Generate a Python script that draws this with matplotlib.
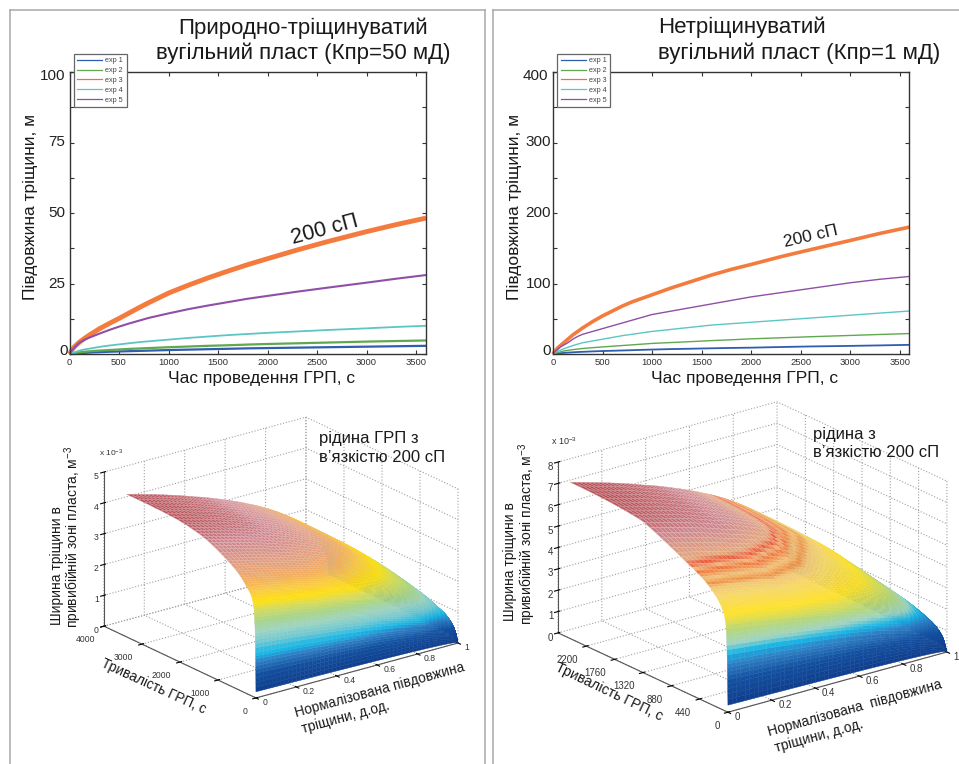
import numpy as np
import matplotlib
matplotlib.use("Agg")
import matplotlib.pyplot as plt
from matplotlib.colors import LinearSegmentedColormap
from matplotlib.lines import Line2D

plt.rcParams["font.family"] = ["Liberation Sans", "DejaVu Sans"]
plt.rcParams["mathtext.default"] = "regular"

# curves
times = [0, 25, 50, 75, 100, 150, 200, 250, 300, 400, 500, 600, 700, 800, 900, 1000, 1200, 1400, 1600, 1800, 2000,
         2300, 2600, 3000, 3300, 3600]

left_exp1 = [0, .1, .15, .2, .3, .4, .5, .6, .65, .8, .9, 1.0, 1.1, 1.2, 1.3, 1.4, 1.55, 1.7, 1.85, 2.0, 2.1,
             2.25, 2.4, 2.6, 2.75, 2.9]
left_exp2 = [0, .15, .3, .45, .6, .8, .95, 1.1, 1.2, 1.4, 1.6, 1.8, 1.95, 2.1, 2.25, 2.4, 2.65, 2.9, 3.1, 3.35, 3.55,
             3.8, 4.05, 4.4, 4.6, 4.8]
left_exp3 = [0, 1.5, 2.6, 3.4, 4.2, 5.5, 6.7, 7.8, 8.9, 10.8, 12.6, 14.5, 16.4, 18.2, 19.9, 21.6, 24.4, 27.0, 29.4,
             31.7, 33.8, 36.9, 39.8, 43.4, 45.9, 48.2]
left_exp4 = [0, .3, .6, .9, 1.2, 1.6, 1.9, 2.2, 2.5, 3.0, 3.4, 3.8, 4.2, 4.5, 4.8, 5.1, 5.7, 6.2, 6.7, 7.1, 7.5,
             8.0, 8.5, 9.1, 9.6, 10.0]
left_exp5 = [0, 1.3, 2.3, 3.2, 4.0, 5.0, 5.8, 6.5, 7.2, 8.5, 9.7, 10.8, 11.8, 12.8, 13.6, 14.4, 15.9, 17.2, 18.4,
             19.6, 20.6, 22.1, 23.5, 25.3, 26.7, 28.0]

right_exp1 = [0, .4, .8, 1.1, 1.5, 2, 2.4, 2.8, 3.1, 3.7, 4.2, 4.6, 5, 5.4, 5.9, 6.3, 7, 7.5, 8.1, 8.6, 9,
              9.9, 10.7, 11.5, 12.2, 13]
right_exp2 = [0, 1, 2, 3, 4, 5.2, 6.2, 7, 7.8, 9, 10, 11, 12, 13, 14, 15, 16.3, 17.6, 19, 20.2, 21.5,
              23, 24.5, 26.3, 27.7, 29]
right_exp3 = [0, 5, 9, 12, 15, 21, 27, 32, 37, 46, 54, 61, 68, 74, 79, 84, 94, 103, 112, 120, 127,
              138, 148, 161, 171, 180]
right_exp4 = [0, 2, 4, 5.5, 7, 9.5, 12, 14, 16, 18.5, 21, 23.5, 26, 28, 30, 32, 35, 38, 41, 43, 45,
              48, 51, 55, 58, 61]
right_exp5 = [0, 4, 7, 10, 12, 16, 21, 25, 28, 32, 36, 40, 44, 48, 52, 56, 61, 66, 71, 76, 81,
              87, 93, 101, 106, 110]

exp_names = ["exp 1", "exp 2", "exp 3", "exp 4", "exp 5"]
exp_colors = ["#2f5db0", "#5fa84f", "#f47b3e", "#5cc6c4", "#8f4fa6"]
legend_colors = ["#2f5db0", "#5fa84f", "#ee6a5c", "#5cc6c4", "#8f4fa6"]

# surfaces: width at the well against time, and the shape along the fracture
norm_length = [0, .02, .04, .06, .08, .1, .12, .14, .16, .18, .2, .22, .24, .26, .28, .3, .32, .34, .36, .38,
               .4, .42, .44, .46, .48, .5, .52, .54, .56, .58, .6, .62, .64, .66, .68, .7, .72, .74, .76, .78,
               .8, .82, .84, .86, .88, .9, .92, .94, .96, .97, .98, .99, .995, 1]
length_shape = [1, .992, .984, .976, .968, .96, .952, .944, .935, .927, .918, .909, .9, .891, .881, .871, .861, .851,
                .842, .832, .822, .811, .8, .789, .777, .766, .754, .742, .729, .716, .702, .689, .675, .66, .645,
                .629, .612, .595, .576, .558, .538, .517, .494, .468, .441, .411, .378, .337, .29, .259, .221, .17,
                .13, .05]

left_duration = [0, 1, 2, 3, 4, 5, 6, 7, 8, 9, 10, 12, 14, 16, 18, 20, 23, 26,
                 30, 34, 38, 43, 48, 54, 60, 68, 76, 85, 95, 105, 118, 130, 145, 160, 180,
                 200, 225, 250, 280, 310, 345, 380, 420, 460, 510, 560, 615, 670, 735, 800, 875, 950, 1035, 1120,
                 1210, 1300,
                 1400, 1500, 1610, 1720, 1835, 1950, 2075, 2200, 2350, 2500, 2650, 2800, 2950, 3100, 3250, 3400]
left_width = [.2, .35, .5, .65, .8, .92, 1.04, 1.15, 1.26, 1.36, 1.46, 1.62, 1.76, 1.88, 2.0, 2.1, 2.2, 2.3,
              2.4, 2.5, 2.6, 2.7, 2.8, 2.9, 2.95, 3.0, 3.05, 3.1, 3.15, 3.19, 3.23, 3.27, 3.31, 3.34, 3.37,
              3.4, 3.44, 3.48, 3.53, 3.58, 3.63, 3.68, 3.73, 3.78, 3.83, 3.88, 3.92, 3.97, 4.02, 4.07, 4.12, 4.17,
              4.23, 4.28, 4.33, 4.38,
              4.42, 4.46, 4.49, 4.52, 4.55, 4.57, 4.59, 4.6, 4.61, 4.62, 4.62, 4.63, 4.63, 4.63, 4.63, 4.63]

right_duration = [0, 1, 2, 3, 4, 5, 6, 7, 8, 9, 10, 12, 14, 16, 18, 20, 23, 26,
                  30, 34, 38, 43, 48, 54, 60, 68, 76, 85, 95, 105, 118, 130, 145, 160, 180,
                  200, 225, 250, 280, 310, 345, 380, 420, 460, 510, 560, 615, 670, 735, 800, 875, 950, 1035, 1120,
                  1210, 1300,
                  1400, 1500, 1610, 1720, 1835, 1950, 2075, 2200, 2325, 2450]
right_width = [.33, .6, .85, 1.1, 1.32, 1.52, 1.72, 1.9, 2.08, 2.24, 2.4, 2.66, 2.9, 3.1, 3.28, 3.45, 3.65, 3.85,
               4.05, 4.14, 4.22, 4.3, 4.38, 4.46, 4.52, 4.6, 4.66, 4.72, 4.78, 4.84, 4.9, 4.96, 5.02, 5.08, 5.16,
               5.22, 5.3, 5.38, 5.46, 5.54, 5.62, 5.7, 5.77, 5.84, 5.92, 6.0, 6.08, 6.16, 6.26, 6.36, 6.47, 6.58,
               6.7, 6.82, 6.94, 7.06,
               7.12, 7.16, 7.2, 7.23, 7.26, 7.28, 7.3, 7.31, 7.32, 7.32]

# how the colour fades towards the tip of the fracture
tone_length = [0, .3, .5, .7, .82, .9, .96, 1]
tone_fade = [1, .97, .91, .79, .68, .52, .38, .12]

left_stops = [(0, "#0f3a8a"), (.15, "#1350a0"), (.24, "#2f7fc4"), (.29, "#18b6e6"), (.37, "#72c9d2"), (.45, "#9fd4c0"),
              (.52, "#a8d48c"), (.6, "#d6dc5a"), (.66, "#ffe012"), (.72, "#f9c83c"), (.77, "#f2a850"), (.85, "#dc8f72"),
              (.93, "#c46c78"), (1, "#a82c34")]
right_stops = [(0, "#0f3a8a"), (.18, "#1350a0"), (.29, "#2f7fc4"), (.355, "#18b6e6"), (.42, "#9fd4c4"), (.5, "#b5d77c"),
               (.61, "#ffe22a"), (.7, "#f6d868"), (.74, "#f1c470"), (.755, "#ee8a3a"), (.775, "#f0c070"),
               (.8, "#ee6a2a"), (.81, "#f0b070"), (.825, "#e84a28"), (.84, "#e2a070"), (.92, "#c4707a"),
               (1, "#a82c34")]


def px(x, y):
    return x / 959, 1 - y / 764


def draw_curves(rect, curves, ymax, pads, top_shift, widths):
    ax = fig.add_axes([rect[0] / 959, 1 - rect[3] / 764, (rect[2] - rect[0]) / 959, (rect[3] - rect[1]) / 764])
    for vals, col, w in zip(curves, exp_colors, widths):
        ax.plot(times, vals, color=col, lw=w, solid_capstyle="butt", clip_on=False)
    ax.set_xlim(0, 3600)
    ax.set_ylim(0, ymax)
    ax.set_xticks(range(0, 3600, 500))
    ax.set_yticks(np.arange(0, ymax + 1, ymax / 8))
    ax.set_yticklabels([])
    ax.tick_params(direction="in", top=True, right=True, length=3, width=0.8, color="#333333", labelsize=6.8,
                   labelcolor="#333333", pad=3)
    for s in ax.spines.values():
        s.set_linewidth(1.0)
        s.set_color("#333333")
    for i, val in enumerate(np.arange(0, ymax + 1, ymax / 4)):
        shift = [3, 0, 0, 0, top_shift][i]
        ax.annotate(f"{val:.0f}", xy=(0, val), xycoords=("axes fraction", "data"), xytext=(-pads[i], shift),
                    textcoords="offset pixels", ha="right", va="center", fontsize=11, color="#222222",
                    annotation_clip=False)
    handles = [Line2D([], [], color=c, lw=0.9) for c in legend_colors]
    leg = ax.legend(handles, exp_names, loc="upper left", bbox_to_anchor=(4 / 356.5, 1 + 18.5 / 282), fontsize=5.2,
                    frameon=True, fancybox=False, framealpha=1, edgecolor="#666666", borderaxespad=0, borderpad=0.5,
                    labelspacing=0.39, handlelength=3.5, handletextpad=0.4, labelcolor="#444444")
    leg.get_frame().set_linewidth(0.9)
    leg.set_zorder(10)
    return ax


def draw_surface(rect, lengths, shape, durations, widths, stops, ylim, yticks, zlim, azim, box, tick_font):
    ax = fig.add_axes([rect[0] / 959, rect[1] / 764, rect[2] / 959, rect[2] / 764], projection="3d")
    ax.patch.set_visible(False)
    ax.set_proj_type("ortho")
    ax.view_init(elev=21, azim=azim)
    ax.set_box_aspect(box)
    # each row of the mesh is the well width at that moment times the shape along the fracture
    X, Y = np.meshgrid(lengths, durations)
    Z = np.outer(widths, shape)
    # colour bands run almost along the fracture and only fade near the tip, as on the reference
    tone = np.outer(widths, np.interp(lengths, tone_length, tone_fade)) / max(widths)
    cmap = LinearSegmentedColormap.from_list("fracture", stops, N=512)
    colors = cmap(tone)
    # the upper part of the mesh lets the white paper through, the lower part is solid
    paper = np.clip((tone - .68) / .25, 0, 1)[..., None] * .42
    colors[..., :3] = colors[..., :3] * (1 - paper * .35) + paper * .35
    surf = ax.plot_surface(X, Y, Z, facecolors=colors, rstride=1, cstride=1, shade=False, linewidth=0.3,
                           antialiased=True)
    edges = colors[:-1, :-1].copy()
    edges[..., :3] = edges[..., :3] * (1 - paper[:-1, :-1]) + paper[:-1, :-1]
    surf.set_edgecolors(edges.reshape(-1, 4))
    ax.set_xlim(0, 1)
    ax.set_ylim(0, ylim)
    ax.set_zlim(0, zlim)
    ax.set_xticks([0, .2, .4, .6, .8, 1])
    ax.set_xticklabels(["0", "0.2", "0.4", "0.6", "0.8", "1"], ha="left", va="bottom")
    ax.set_yticks(yticks)
    ax.set_yticklabels([str(v) for v in yticks], ha="right")
    ax.set_zticks(range(0, zlim + 1))
    ax.tick_params(labelsize=tick_font, labelcolor="#333333", pad=-2)
    ax.tick_params(axis="z", pad=-5)
    ax.zaxis.set_ticks_position("upper")
    for axis in (ax.xaxis, ax.yaxis, ax.zaxis):
        axis.set_pane_color((1, 1, 1, 0))
        axis.pane.set_edgecolor("#999999")
        axis.pane.set_linestyle(":")
        axis.pane.set_linewidth(0.8)
        axis.line.set_color("#555555")
        axis.line.set_linewidth(0.8)
        axis._axinfo["grid"].update(color="#a0a0a0", linestyle=":", linewidth=0.8)
        axis._axinfo["tick"].update(inward_length=0.15, outward_length=0.05)
    return ax


fig = plt.figure(figsize=(9.59, 7.64), dpi=100)

# page frames
for xs, ys in [((10, 10), (764, 10)), ((10, 485), (10, 10)), ((485, 485), (10, 764)),
               ((493, 493), (764, 10)), ((493, 959), (10, 10))]:
    fig.add_artist(Line2D([x / 959 for x in xs], [1 - y / 764 for y in ys], color="#a8a8a8", lw=1.1))

left_curves = [left_exp1, left_exp2, left_exp3, left_exp4, left_exp5]
right_curves = [right_exp1, right_exp2, right_exp3, right_exp4, right_exp5]
draw_curves((69.5, 72, 426, 354), left_curves, 100, [2, 4, 4, 4, 4], -4, [1.6, 1.6, 3.5, 1.3, 1.5])
draw_curves((553, 72, 909.5, 354), right_curves, 400, [2, 2, 2, 2, 5], -4, [1.3, 1.0, 2.6, 1.0, 1.0])

draw_surface((84.8, 10.3, 382), norm_length, length_shape, left_duration, left_width, left_stops, 4000,
             [0, 1000, 2000, 3000, 4000], 5, -127.2, (253.6, 251.4, 165), 6.2)
draw_surface((536.6, -8.9, 420.4), norm_length, length_shape, right_duration, right_width, right_stops, 2640,
             [0, 440, 880, 1320, 1760, 2200], 8, -127.5, (276, 279, 183), 7)

# titles
fig.text(*px(303, 28), "Природно-тріщинуватий", fontsize=16, ha="center", va="center", color="#1a1a1a")
fig.text(*px(303, 53), "вугільний пласт (Кпр=50 мД)", fontsize=16, ha="center", va="center", color="#1a1a1a")
fig.text(*px(658, 27), "Нетріщинуватий", fontsize=16, ha="left", va="center", color="#1a1a1a")
fig.text(*px(658, 53), "вугільний пласт (Кпр=1 мД)", fontsize=16, ha="left", va="center", color="#1a1a1a")

# axis titles of the curve charts
fig.text(*px(262, 378), "Час проведення ГРП, с", fontsize=12.5, ha="center", va="center", color="#1a1a1a")
fig.text(*px(745, 378), "Час проведення ГРП, с", fontsize=12.5, ha="center", va="center", color="#1a1a1a")
fig.text(*px(30, 207), "Півдовжина тріщини, м", fontsize=12.5, rotation=90, ha="center", va="center", color="#1a1a1a")
fig.text(*px(515, 207), "Півдовжина тріщини, м", fontsize=12.5, rotation=90, ha="center", va="center", color="#1a1a1a")
fig.text(*px(325, 230), "200 сП", fontsize=15.5, rotation=15, ha="center", va="center", color="#1a1a1a")
fig.text(*px(811, 236), "200 сП", fontsize=12.5, rotation=13, ha="center", va="center", color="#1a1a1a")

# notes and axis titles of the surfaces
fig.text(*px(319, 438), "рідина ГРП з", fontsize=12, ha="left", va="center", color="#1a1a1a")
fig.text(*px(319, 457), "в’язкістю 200 сП", fontsize=12, ha="left", va="center", color="#1a1a1a")
fig.text(*px(813, 435), "рідина з", fontsize=12, ha="left", va="center", color="#1a1a1a")
fig.text(*px(813, 453), "в’язкістю 200 сП", fontsize=12, ha="left", va="center", color="#1a1a1a")

fig.text(*px(57, 566), "Ширина тріщини в", fontsize=10, rotation=90, ha="center", va="center", color="#1a1a1a")
fig.text(*px(73, 537), "привибійній зоні пласта, м$^{-3}$", fontsize=10, rotation=90, ha="center", va="center", color="#1a1a1a")
fig.text(*px(510, 562), "Ширина тріщини в", fontsize=10, rotation=90, ha="center", va="center", color="#1a1a1a")
fig.text(*px(527, 534), "привибійній зоні пласта, м$^{-3}$", fontsize=10, rotation=90, ha="center", va="center", color="#1a1a1a")

fig.text(*px(154, 686), "Тривалість ГРП, с", fontsize=9.8, rotation=-24.7, ha="center", va="center", color="#1a1a1a")
fig.text(*px(380, 690), "Нормалізована півдовжина", fontsize=9.9, rotation=15.3, ha="center", va="center", color="#1a1a1a")
fig.text(*px(346, 717), "тріщини, д.од.", fontsize=9.9, rotation=15.3, ha="center", va="center", color="#1a1a1a")
fig.text(*px(609, 692), "Тривалість ГРП, с", fontsize=10.2, rotation=-25.5, ha="center", va="center", color="#1a1a1a")
fig.text(*px(855, 708), "Нормалізована  півдовжина", fontsize=10, rotation=15.5, ha="center", va="center", color="#1a1a1a")
fig.text(*px(819, 736), "тріщини, д.од.", fontsize=10, rotation=15.5, ha="center", va="center", color="#1a1a1a")

fig.text(*px(111, 453), "x 10$^{-3}$", fontsize=6, ha="center", va="center", color="#333333")
fig.text(*px(564, 441), "x 10$^{-3}$", fontsize=6.5, ha="center", va="center", color="#333333")

fig.savefig("out.png", dpi=100)
